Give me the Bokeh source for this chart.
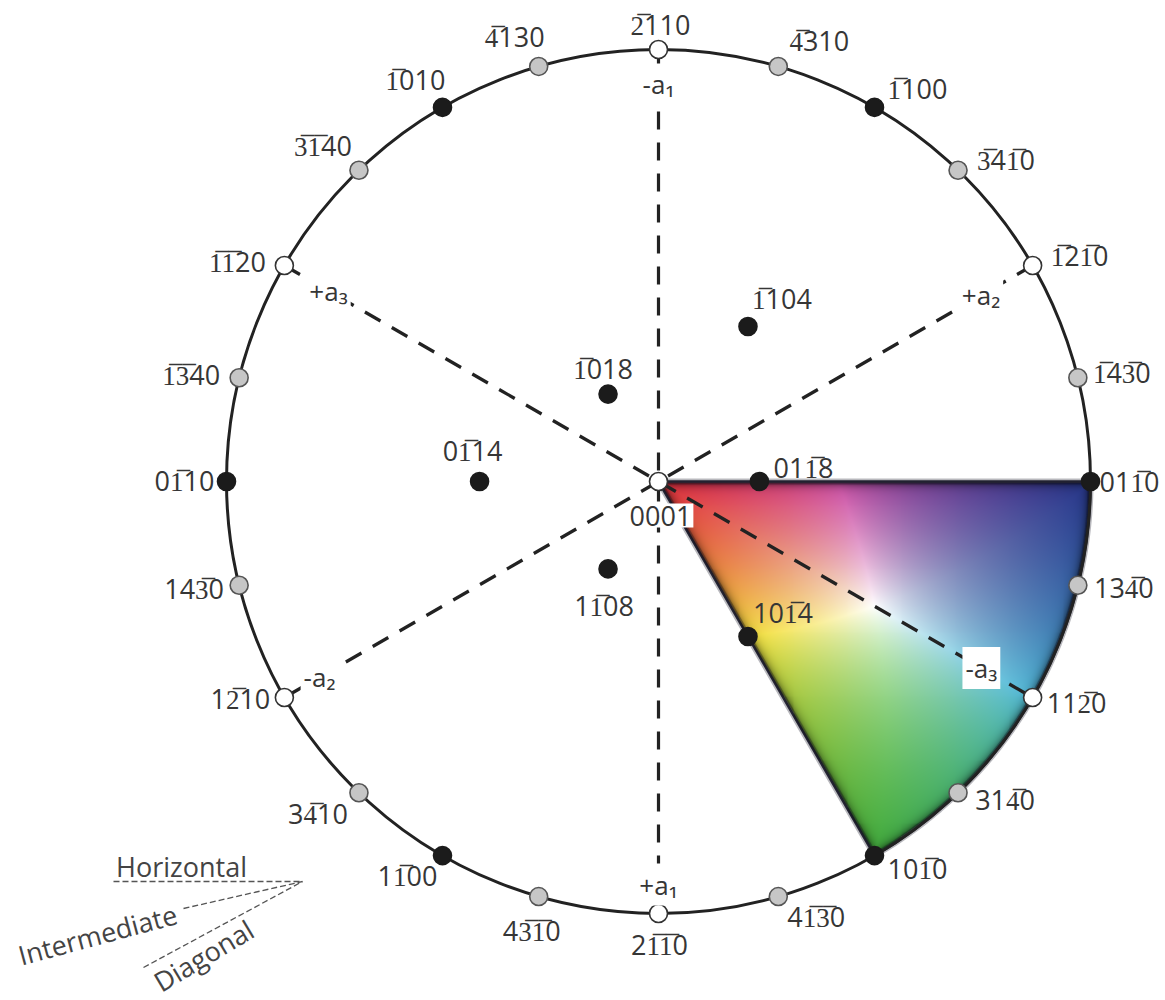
import numpy as np
from bokeh.plotting import figure
from bokeh.models import ColumnDataSource, Range1d
from bokeh.core.properties import value
from bokeh.embed import file_html
from bokeh.resources import INLINE

# ---------------- data ----------------
# "-" marks that the following index carries an overbar
rim_labels = ["-2110", "-4310", "-1100", "-34-10", "-12-10", "-14-30", "01-10",
              "13-40", "11-20", "31-40", "10-10", "4-1-30", "2-1-10", "4-3-10",
              "1-100", "3-410", "1-210", "14-30", "0-110", "-1-340", "-1-120",
              "-3-140", "-1010", "-4130"]
rim_azimuth = [90, 73.9, 60, 46.1, 30, 13.9, 0, -13.9, -30, -46.1, -60, -73.9,
               -90, -106.1, -120, -133.9, -150, -166.1, 180, 166.1, 150, 133.9,
               120, 106.1]
rim_kind = ["a", "g", "m", "g", "a", "g", "m", "g", "a", "g", "m", "g",
            "a", "g", "m", "g", "a", "g", "m", "g", "a", "g", "m", "g"]

inner_labels = ["0001", "01-18", "-1104", "-1018", "0-114", "1-108", "10-14"]
inner_azimuth = [0, 0, 60, 120, 180, -120, -60]
inner_tilt = [0, 26.3, 45, 26.3, 45, 26.3, 45]
inner_kind = ["a", "m", "m", "m", "m", "m", "m"]

axis_names = ["-a\u2081", "+a\u2081", "+a\u2082", "-a\u2082", "+a\u2083", "-a\u2083"]
axis_azimuth = [90, -90, 30, -150, 150, -30]
axis_dirs = [90, 30, 150]

legend_names = ["Horizontal", "Intermediate", "Diagonal"]

# ---------------- layout / style ----------------
R_PX = 432.0
CX, CY = 658.0, 481.0
W, H = 1165, 1000


def P(px, py):
    return (px - CX) / R_PX, (CY - py) / R_PX


def bar(s):
    out, flag = "", False
    for ch in s:
        if ch == "-":
            flag = True
            continue
        out += ch + ("\u0305" if flag else "")
        flag = False
    return out


rim_off = [(2, -25), (41, -26), (43, -19), (48, -11), (47, -10), (44, -5), (39, 0),
           (46, 2), (44, 5), (47, 7), (43, 13), (38, 20), (1, 31), (-7, 34),
           (-35, 20), (-41, 21), (-44, 1), (-45, 3), (-42, -1), (-48, -3),
           (-47, -4), (-36, -25), (-27, -28), (-24, -30)]
inner_off = [(2, 34), (44, -14), (34, -28), (-5, -26), (-7, -31), (-4, 37), (35, -24)]
axis_r = [0.919, 0.933, 0.862, 0.906, 0.882, 0.863]

fill_map = {"a": "white", "g": "#c6c6c6", "m": "#1b1b1b"}
line_map = {"a": "#333333", "g": "#555555", "m": "#1b1b1b"}

FONT = value("Open Sans")
TXT = "#363636"
FS = "27px"

p = figure(width=W, height=H, output_backend="svg", toolbar_location=None,
           x_range=Range1d((0 - CX) / R_PX, (W - CX) / R_PX),
           y_range=Range1d((CY - H) / R_PX, CY / R_PX),
           min_border=0)
p.axis.visible = False
p.grid.visible = False
p.outline_line_color = None
p.background_fill_color = "white"
p.border_fill_color = "white"

# ---------------- coloured sector (IPF key) ----------------
s60 = np.sin(np.pi / 3)
nx, ny = 440, 380
xs = np.linspace(0, 1.0, nx)
ys = np.linspace(-s60, 0, ny)
X, Y = np.meshgrid(xs, ys)
r = np.hypot(X, Y)
az = np.arctan2(Y, X)
rho = 2 * np.arctan(np.minimum(r, 1.0))
vx = np.sin(rho) * np.cos(az)
vy = np.sin(rho) * np.sin(az)
vz = np.cos(rho)
wr = vz
wg = -vy / s60
wb = vx - 0.5 * wg
Wt = np.stack([wr, wg, wb], -1).clip(0, None)
Wt = Wt / np.maximum(Wt.max(-1, keepdims=True), 1e-9)
Wr, Wg, Wb = Wt[..., 0:1], Wt[..., 1:2], Wt[..., 2:3]
Wm = Wt.min(-1, keepdims=True)
K = np.array([45, -10, 60.0])
A = np.array([180, 55, 0.0])
B = np.array([20, 180, 0.0])
C = np.array([-5, 65, 80.0])
Fgb = np.array([20, -50, 75.0])
Frb = np.array([-15, -30, 25.0])
E = np.array([10, 45, 15.0])
rgb = (K + A * Wr + B * Wg + C * Wb + Fgb * Wg * Wb + Frb * Wr * Wb + E * Wm).clip(0, 255)
d_top = -Y * R_PX
d_arc = (1 - r) * R_PX
d_left = (s60 * X + 0.5 * Y) * R_PX
dmin = np.minimum(np.minimum(d_top, d_arc), d_left)
dark = 1 - 0.7 * np.exp(-np.clip(dmin, 0, None) / 4.0)
rgb = rgb * dark[..., None]
alpha = np.clip(dmin + 0.5, 0, 1) * 255
img = np.zeros((ny, nx), dtype=np.uint32)
view = img.view(dtype=np.uint8).reshape((ny, nx, 4))
view[..., 0] = rgb[..., 0].astype(np.uint8)
view[..., 1] = rgb[..., 1].astype(np.uint8)
view[..., 2] = rgb[..., 2].astype(np.uint8)
view[..., 3] = alpha.astype(np.uint8)
p.image_rgba(image=[img], x=0, y=-s60, dw=1.0, dh=s60)

t = np.radians(np.linspace(0, -60, 80))
sx = [0.0] + list(np.cos(t)) + [0.0]
sy = [0.0] + list(np.sin(t)) + [0.0]
p.line(sx, sy, line_color="#151525", line_width=6, line_alpha=0.3)
p.line(sx, sy, line_color="#151525", line_width=2.5, line_alpha=0.9)

# ---------------- primitive circle ----------------
p.circle(x=[0], y=[0], radius=1.0, fill_color=None, line_color="#222222", line_width=3)

# ---------------- dashed axes ----------------
th = np.radians(axis_dirs)
p.segment(x0=np.cos(th), y0=np.sin(th), x1=-np.cos(th), y1=-np.sin(th),
          line_color="#222222", line_width=3.2, line_dash="18 13")

# ---------------- poles ----------------
ra = np.radians(rim_azimuth)
rim_src = ColumnDataSource(dict(
    x=np.cos(ra), y=np.sin(ra),
    fill=[fill_map[k] for k in rim_kind], line=[line_map[k] for k in rim_kind],
    text=[bar(s) for s in rim_labels],
    dx=[o[0] for o in rim_off], dy=[o[1] for o in rim_off]))

ia = np.radians(inner_azimuth)
ir = np.tan(np.radians(inner_tilt) / 2)
in_src = ColumnDataSource(dict(
    x=ir * np.cos(ia), y=ir * np.sin(ia),
    fill=[fill_map[k] for k in inner_kind], line=[line_map[k] for k in inner_kind],
    text=[bar(s) for s in inner_labels],
    dx=[o[0] for o in inner_off], dy=[o[1] for o in inner_off]))

for src in (rim_src, in_src):
    p.scatter(x="x", y="y", source=src, size=18, fill_color="fill",
              line_color="line", line_width=1.6)

p.text(x="x", y="y", text="text", source=rim_src, x_offset="dx", y_offset="dy",
       text_font=FONT, text_font_size=FS, text_color=TXT,
       text_align="center", text_baseline="middle")

# 0001 label has a white box, others plain
in0 = ColumnDataSource({k: v[:1] for k, v in in_src.data.items()})
in1 = ColumnDataSource({k: v[1:] for k, v in in_src.data.items()})
p.text(x="x", y="y", text="text", source=in0, x_offset="dx", y_offset="dy",
       text_font=FONT, text_font_size=FS, text_color=TXT,
       text_align="center", text_baseline="middle",
       background_fill_color="white", padding=2)
p.text(x="x", y="y", text="text", source=in1, x_offset="dx", y_offset="dy",
       text_font=FONT, text_font_size=FS, text_color=TXT,
       text_align="center", text_baseline="middle")

# ---------------- axis labels ----------------
aa = np.radians(axis_azimuth)
ax_src = ColumnDataSource(dict(x=np.array(axis_r) * np.cos(aa),
                               y=np.array(axis_r) * np.sin(aa),
                               text=axis_names))
p.text(x="x", y="y", text="text", source=ax_src,
       text_font=FONT, text_font_size="26px", text_color=TXT,
       text_align="center", text_baseline="middle",
       background_fill_color="white", padding=3)

# ---------------- legend of directions ----------------
tip = P(302, 881)
starts = [P(113, 881), P(183, 908), P(143, 967)]
p.segment(x0=[s[0] for s in starts], y0=[s[1] for s in starts],
          x1=[tip[0]] * 3, y1=[tip[1]] * 3,
          line_color="#555555", line_width=1.3, line_dash="6 3")
lpos = [P(181, 866), P(97, 934), P(203, 955)]
p.text(x=[q[0] for q in lpos], y=[q[1] for q in lpos], text=legend_names,
       angle=[0, np.radians(15), np.radians(31)],
       text_font=FONT, text_font_size="27px", text_color="#444444",
       text_align="center", text_baseline="middle")

open("out.html", "w").write(file_html(p, INLINE))
